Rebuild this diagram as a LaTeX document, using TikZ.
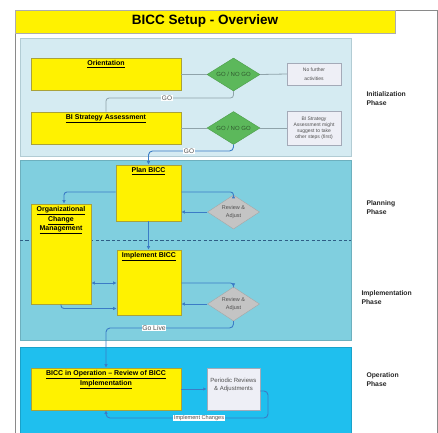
\documentclass[tikz,border=0pt]{standalone}
\usepackage{fontspec}
\setmainfont{Liberation Sans}
\usetikzlibrary{shapes.geometric,arrows.meta}
\definecolor{yfill}{HTML}{FFF200}
\definecolor{yedge}{HTML}{A9A23A}
\definecolor{initbg}{HTML}{D5EBF2}
\definecolor{initedge}{HTML}{B2CCD4}
\definecolor{planbg}{HTML}{80CFDF}
\definecolor{opbg}{HTML}{1FBFEE}
\definecolor{gfill}{HTML}{5CB85B}
\definecolor{gedge}{HTML}{4C9C4A}
\definecolor{gtext}{HTML}{2F5A2E}
\definecolor{rfill}{HTML}{C4C4C4}
\definecolor{redge}{HTML}{A6A6A6}
\definecolor{nfill}{HTML}{EEEFF6}
\definecolor{nedge}{HTML}{A4AAB8}
\definecolor{lgray}{HTML}{8FA3AA}
\definecolor{lblue}{HTML}{3B7CC6}
\definecolor{dashc}{HTML}{2E5E86}
\definecolor{framec}{HTML}{8A8A8A}
\definecolor{stext}{HTML}{505050}
\newcommand\topbox[3]{\parbox[c][#2][t]{#1}{\centering\vspace*{2.5pt}#3}}
\tikzset{x=1pt,y=-1pt,
 panelbox/.style={line width=0.6pt},
 ybox/.style={draw=yedge, fill=yfill, line width=0.8pt, inner sep=0pt,
   font=\fontsize{7}{9.5}\selectfont\bfseries},
 gng/.style={diamond, aspect=1.6, draw=gedge, fill=gfill, inner sep=0pt,
   minimum width=53pt, minimum height=33pt, font=\fontsize{6}{7}\selectfont, text=gtext},
 rad/.style={diamond, aspect=1.6, draw=redge, fill=rfill, inner sep=0pt,
   minimum width=52pt, minimum height=34pt, font=\fontsize{5.5}{7.2}\selectfont, text=stext, align=center},
 nbox/.style={draw=nedge, fill=nfill, line width=0.5pt, inner sep=0pt, align=center,
   text=stext},
 phase/.style={anchor=west, align=left, font=\fontsize{6.8}{9}\selectfont\bfseries, text=black!85},
 golbl/.style={fill=white, inner sep=0.6pt, text=stext},
 gline/.style={draw=lgray, line width=0.8pt},
 bline/.style={draw=lblue, line width=0.9pt},
 arr/.style={-{Latex[length=3.5pt,width=3.5pt]}},
}
\begin{document}
\begin{tikzpicture}
\useasboundingbox (0,0) rectangle (438,432);
% frame
\draw[framec, line width=0.6pt] (15,445) -- (15,10) -- (437,10) -- (437,445);
% title
\node[draw=framec!70, fill=yfill, line width=0.4pt, minimum width=380pt, minimum height=23pt,
  inner sep=0pt, font=\fontsize{13.5}{16}\selectfont\bfseries] (title) at (205,21.5) {BICC Setup - Overview};
% panels
\node[panelbox, draw=initedge, fill=initbg, minimum width=331pt, minimum height=118pt, inner sep=0pt] (initp) at (185.5,97) {};
\node[panelbox, draw=planbg!85!black, fill=planbg, minimum width=331pt, minimum height=180pt, inner sep=0pt] (planp) at (185.5,250) {};
\node[panelbox, draw=opbg!85!black, fill=opbg, minimum width=331pt, minimum height=95pt, inner sep=0pt] (opp) at (185.5,394.5) {};
% dashed separator
\coordinate (dl) at (20,240);
\coordinate (dr) at (351,240);
\draw[dashc, line width=0.9pt, dash pattern=on 3.2pt off 2.2pt] (dl) -- (dr);

% initialization nodes
\node[ybox] (orient) at (106,74) {\topbox{150pt}{32pt}{\underline{Orientation}}};
\node[ybox] (bisa) at (106,128) {\topbox{150pt}{32pt}{\underline{BI Strategy Assessment}}};
\node[gng] (gng1) at (233.5,74.5) {GO / NO GO};
\node[gng] (gng2) at (233.5,128) {GO / NO GO};
\node[nbox, minimum width=54pt, minimum height=22pt, font=\fontsize{5}{8.5}\selectfont] (nofurther) at (314,74) {No further\\activities};
\node[nbox, minimum width=54pt, minimum height=34pt, font=\fontsize{5}{6.1}\selectfont] (bistext) at (314,128) {BI Strategy\\Assessment might\\suggest to take\\other steps (first)};

% planning / implementation nodes
\node[ybox] (plan) at (148.5,193) {\topbox{65pt}{56pt}{\underline{Plan BICC}}};
\node[ybox] (ocm) at (61,254) {\topbox{60pt}{100pt}{\underline{Organizational}\\\underline{Change}\\\underline{Management}}};
\node[ybox] (impl) at (149,282.5) {\topbox{64pt}{65pt}{\underline{Implement BICC}}};
\node[rad] (ra1) at (233.5,212) {Review \&\\Adjust};
\node[rad] (ra2) at (233.5,304) {Review \&\\Adjust};

% operation nodes
\node[ybox] (op) at (106,389) {\topbox{150pt}{42pt}{\underline{BICC in Operation -- Review of BICC}\\\underline{Implementation}}};
\node[nbox, minimum width=53pt, minimum height=42pt, font=\fontsize{6}{7.6}\selectfont] (periodic) at (233.5,389) {\topbox{53pt}{42pt}{\vspace*{8pt}Periodic Reviews\\\& Adjustments}};

% phase labels
\node[phase] (ph1) at (363,98.5) {Initialization\\Phase};
\node[phase] (ph2) at (363,207.5) {Planning\\Phase};
\node[phase] (ph3) at (358,297.5) {Implementation\\Phase};
\node[phase] (ph4) at (363,379.5) {Operation\\Phase};

% initialization connectors
\draw[gline] (orient.east |- gng1.west) -- (gng1.west);
\draw[gline] (gng1.east) -- (nofurther.west);
\draw[gline, rounded corners=3pt] (gng1.south) |- (bisa.north |- 0,98) -- (bisa.north);
\node[golbl, font=\fontsize{6.5}{7}\selectfont] (go1) at (167,98) {GO};
\draw[gline] (bisa.east |- gng2.west) -- (gng2.west);
\draw[gline] (gng2.east) -- (bistext.west);
\draw[bline, arr, rounded corners=4pt] (gng2.south) |- (plan.north |- 0,151) -- (plan.north);
\node[golbl, font=\fontsize{6.5}{7}\selectfont] (go2) at (189,151) {GO};

% planning connectors
\draw[bline, arr, rounded corners=3pt] (plan.west |- 0,192) -| ([xshift=3pt]ocm.north);
\draw[bline, arr, rounded corners=3pt] (plan.east |- 0,192) -| (ra1.north);
\draw[bline, arr] (ra1.west) -- (plan.east |- ra1.west);
\draw[bline, arr] (plan.south) -- (impl.north -| plan.south);
\draw[bline, {Latex[length=3.5pt,width=3.5pt]}-{Latex[length=3.5pt,width=3.5pt]}] (ocm.east |- 0,283) -- (impl.west |- 0,283);
\draw[bline, arr, rounded corners=3pt] (ocm.south) |- (impl.west |- 0,308.5);
\draw[bline, arr, rounded corners=3pt] (impl.east |- 0,283) -| (ra2.north);
\draw[bline, arr] (ra2.west) -- (impl.east |- ra2.west);
\draw[bline, arr, rounded corners=4pt] (ra2.south) |- (op.north |- 0,328) -- (op.north);
\node[golbl, font=\fontsize{6.8}{7}\selectfont] (golive) at (154,328) {Go Live};

% operation connectors
\draw[bline, arr] (op.east) -- (periodic.west);
\draw[bline, arr, rounded corners=4pt] (periodic.east |- 0,391) -- (268,391) |- (op.south |- 0,418) -- (op.south);
\node[golbl, font=\fontsize{5.6}{6}\selectfont] (implch) at (199,418) {Implement Changes};
\end{tikzpicture}
\end{document}
